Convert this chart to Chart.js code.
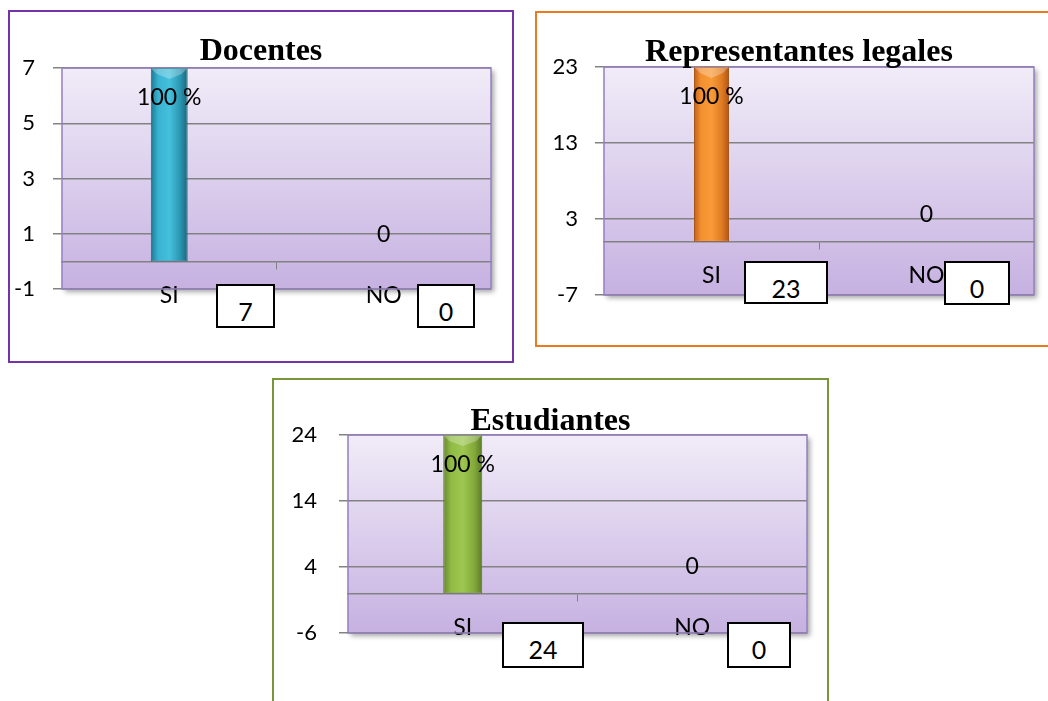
<!DOCTYPE html>
<html>
<head>
<meta charset="utf-8">
<script src="https://cdn.jsdelivr.net/npm/chart.js@4.4.1/dist/chart.umd.min.js"></script>
<style>
  body { margin: 0; width: 1048px; height: 701px; overflow: hidden; background: #fff; position: relative; font-family: Lato, sans-serif; }
  .frame { position: absolute; box-sizing: border-box; border: 2px solid; }
  .holder { position: absolute; }
  .valbox { position: absolute; box-sizing: border-box; border: 2px solid #000; background: #fff;
            font: 25px Lato, sans-serif; line-height: 1; text-align: center; padding-top: 13px; }
</style>
</head>
<body>
<div class="frame" style="left:8px;top:10px;width:506px;height:353px;border-color:#7434a8"></div>
<div class="frame" style="left:535px;top:11px;width:540px;height:336px;border-color:#ea7a22"></div>
<div class="frame" style="left:272px;top:378px;width:557px;height:340px;border-color:#7a963c"></div>

<div class="holder" style="left:8px;top:10px"><canvas id="docentes" width="506" height="353"></canvas></div>
<div class="holder" style="left:535px;top:11px"><canvas id="representantes" width="528" height="336"></canvas></div>
<div class="holder" style="left:272px;top:378px"><canvas id="estudiantes" width="557" height="323"></canvas></div>

<script>
var categories = ['SI', 'NO'];
var barLabels = ['100 %', '0'];

var docentesValues = [7, 0];
var representantesValues = [23, 0];
var estudiantesValues = [24, 0];

var docentesTicks = [-1, 1, 3, 5, 7];
var representantesTicks = [-7, 3, 13, 23];
var estudiantesTicks = [-6, 4, 14, 24];

var gridGrey = '#828282';

// value boxes next to the category names (text comes from the series arrays)
function addBox(left, top, w, h, text) {
    var d = document.createElement('div');
    d.className = 'valbox';
    d.style.left = left + 'px';
    d.style.top = top + 'px';
    d.style.width = w + 'px';
    d.style.height = h + 'px';
    d.textContent = text;
    document.body.appendChild(d);
}

var deco = {
    id: 'deco',
    beforeDraw: function(chart) {
        var a = chart.chartArea, ctx = chart.ctx;
        ctx.save();
        ctx.shadowColor = 'rgba(0,0,0,0.35)';
        ctx.shadowBlur = 5;
        ctx.shadowOffsetX = 3;
        ctx.shadowOffsetY = 3;
        var g = ctx.createLinearGradient(0, a.top, 0, a.bottom);
        g.addColorStop(0, '#f1ecf8');
        g.addColorStop(1, '#c6b1e1');
        ctx.fillStyle = g;
        ctx.fillRect(a.left, a.top, a.right - a.left, a.bottom - a.top);
        ctx.restore();
    },
    beforeDatasetsDraw: function(chart) {
        var a = chart.chartArea, ctx = chart.ctx;
        ctx.save();
        ctx.strokeStyle = '#9580bf';
        ctx.lineWidth = 1.5;
        ctx.strokeRect(a.left, a.top, a.right - a.left, a.bottom - a.top);
        ctx.restore();
    },
    afterDatasetsDraw: function(chart) {
        var ctx = chart.ctx, o = chart.options.plugins.deco;
        var meta = chart.getDatasetMeta(0);
        ctx.save();
        meta.data.forEach(function(bar, i) {
            var v = chart.data.datasets[0].data[i];
            if (v > 0) {
                // bevel on the bar top
                var l = bar.x - bar.width / 2, r = bar.x + bar.width / 2;
                ctx.fillStyle = 'rgba(255,255,255,0.28)';
                ctx.beginPath();
                ctx.moveTo(l, bar.y);
                ctx.lineTo(r, bar.y);
                ctx.lineTo(r - 6, bar.y + 6);
                ctx.lineTo(bar.x, bar.y + 11);
                ctx.lineTo(l + 6, bar.y + 6);
                ctx.closePath();
                ctx.fill();
            }
            ctx.fillStyle = '#000';
            ctx.font = '23px Lato';
            ctx.textAlign = 'center';
            ctx.textBaseline = 'middle';
            var y = v > 0 ? bar.y + 30 : bar.y - 27;
            ctx.fillText(barLabels[i] === '0' ? String(v) : barLabels[i], bar.x, y);
        });
        ctx.font = 'bold 32px "Liberation Serif"';
        ctx.textAlign = 'center';
        ctx.textBaseline = 'alphabetic';
        ctx.fillText(o.title, chart.width / 2, o.titleY);
        ctx.restore();
    }
};

function makeChart(id, values, ticks, title, cfg) {
    var ctx = document.getElementById(id);
    return new Chart(ctx, {
        type: 'bar',
        data: {
            labels: categories,
            datasets: [{
                data: values,
                barPercentage: cfg.barPct,
                categoryPercentage: 1,
                borderWidth: function(c) { return c.raw > 0 ? 1 : 0; },
                borderColor: cfg.edge,
                borderSkipped: false,
                backgroundColor: function(c) {
                    var chart = c.chart, xs = chart.scales.x;
                    if (!xs || !chart.chartArea || c.type !== 'data') return cfg.stops[2];
                    var half = xs.width / categories.length * cfg.barPct / 2;
                    var cx = xs.getPixelForValue(c.dataIndex);
                    if (!isFinite(half) || !isFinite(cx)) return cfg.stops[2];
                    var g = chart.ctx.createLinearGradient(cx - half, 0, cx + half, 0);
                    g.addColorStop(0, cfg.stops[0]);
                    g.addColorStop(0.2, cfg.stops[1]);
                    g.addColorStop(0.5, cfg.stops[2]);
                    g.addColorStop(0.8, cfg.stops[3]);
                    g.addColorStop(1, cfg.stops[4]);
                    return g;
                }
            }]
        },
        options: {
            responsive: false,
            animation: false,
            layout: { padding: { left: 0, top: cfg.top, right: cfg.right, bottom: cfg.bottom } },
            plugins: {
                legend: { display: false },
                tooltip: { enabled: false },
                deco: { title: title, titleY: cfg.titleY }
            },
            scales: {
                x: {
                    position: { y: 0 },
                    afterFit: function(s) { s.height = 0; },
                    border: { display: true, color: gridGrey, width: 1.5 },
                    grid: {
                        drawOnChartArea: false,
                        tickLength: 7,
                        color: function(c) { return c.index === 1 ? gridGrey : 'rgba(0,0,0,0)'; }
                    },
                    ticks: { color: '#000', font: { family: 'Lato', size: 23 }, padding: 13 }
                },
                y: {
                    min: ticks[0],
                    max: ticks[ticks.length - 1],
                    afterBuildTicks: function(s) { s.ticks = ticks.map(function(v) { return { value: v }; }); },
                    afterFit: function(s) { s.width = cfg.yWidth; },
                    border: { display: false },
                    grid: { color: gridGrey, lineWidth: 1.5, tickLength: 9 },
                    ticks: { color: '#000', font: { family: 'Lato', size: 22 }, padding: cfg.tickPad }
                }
            }
        },
        plugins: [deco]
    });
}

makeChart('docentes', docentesValues, docentesTicks, 'Docentes', {
    top: 58, right: 23, bottom: 74, yWidth: 54, tickPad: 18, titleY: 50, barPct: 0.172,
    stops: ['#1c7890', '#38b2d0', '#44c1de', '#2b95b1', '#196579'], edge: '#1b6a80'
});
makeChart('representantes', representantesValues, representantesTicks, 'Representantes legales', {
    top: 56, right: 29, bottom: 52, yWidth: 69, tickPad: 17, titleY: 50, barPct: 0.163,
    stops: ['#c15f19', '#f29030', '#f89b37', '#df7a22', '#b05515'], edge: '#a8561a'
});
makeChart('estudiantes', estudiantesValues, estudiantesTicks, 'Estudiantes', {
    top: 57, right: 22, bottom: 68, yWidth: 76, tickPad: 22, titleY: 52, barPct: 0.17,
    stops: ['#66872c', '#90bb44', '#9dc750', '#83a93a', '#5b7a28'], edge: '#5a7528'
});

addBox(216, 284, 59, 44, docentesValues[0]);
addBox(417, 284, 58, 44, docentesValues[1]);
addBox(744, 261, 84, 43, representantesValues[0]);
addBox(944, 261, 66, 44, representantesValues[1]);
addBox(502, 622, 82, 46, estudiantesValues[0]);
addBox(727, 622, 64, 46, estudiantesValues[1]);
</script>
</body>
</html>
